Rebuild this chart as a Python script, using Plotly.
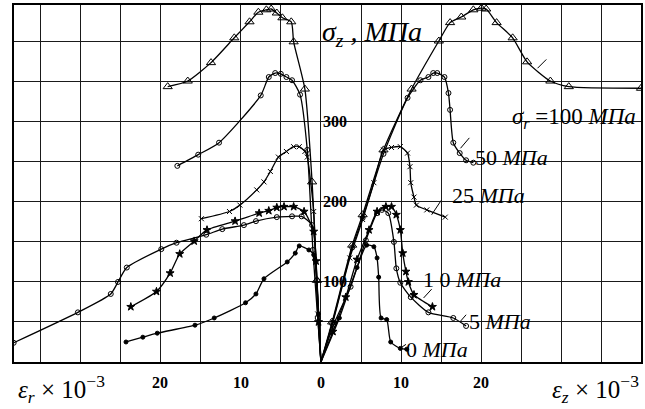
import plotly.graph_objects as go

# ---- data (strain x10^-3, stress MPa) ----
# left branch: radial strain eps_r (plotted to the left), right branch: axial strain eps_z
labels = ["100", "50", "25", "10", "5", "0"]

er_100 = [0, 0.5, 1.1, 2.0, 3.4, 3.7, 4.8, 5.5, 6.2, 6.8, 7.8, 8.9, 10.8, 13.7, 16.6, 19.1]
sr_100 = [0, 102, 225, 341, 400, 425, 430, 436, 441, 440, 437, 425, 405, 374, 351, 344]
ez_100 = [0, 1.4, 3.9, 5.2, 7.8, 11.3, 14.7, 16.1, 17.5, 19.0, 20.0, 20.6, 21.9, 23.9, 25.7, 28.6, 30.9, 39.9]
sz_100 = [0, 50, 146, 184, 265, 341, 401, 424, 431, 440, 442, 441, 424, 405, 375, 351, 344, 342]

er_50 = [0, 0.4, 1.0, 1.7, 2.6, 3.6, 4.3, 5.0, 5.7, 6.5, 7.5, 12.7, 15.3, 17.9]
sr_50 = [0, 55, 140, 265, 334, 352, 356, 360, 361, 356, 333, 274, 259, 245]
ez_50 = [0, 1.4, 3.9, 5.2, 7.8, 10.8, 12.4, 13.4, 14.0, 14.5, 15.4, 15.9, 16.1, 16.5, 17.3, 18.1, 19.0]
sz_50 = [0, 48, 143, 180, 260, 330, 352, 356, 361, 361, 356, 336, 315, 274, 261, 252, 249]

er_25 = [0, 0.4, 0.9, 1.7, 2.0, 2.7, 3.4, 4.3, 5.3, 6.3, 7.1, 8.0, 10.1, 11.4, 14.9]
sr_25 = [0, 60, 188, 256, 263, 269, 269, 263, 256, 238, 225, 215, 196, 188, 179]
ez_25 = [0, 1.5, 3.6, 5.2, 6.6, 7.8, 8.8, 9.9, 10.8, 11.1, 11.2, 11.6, 11.9, 13.2, 15.5]
sz_25 = [0, 50, 130, 178, 224, 265, 268, 269, 261, 244, 224, 206, 196, 190, 181]

er_10 = [0, 0.3, 0.6, 0.9, 2.1, 3.4, 4.6, 5.5, 6.5, 7.7, 10.7, 14.2, 15.8, 17.6, 18.8, 20.5, 23.7]
sr_10 = [0, 50, 126, 163, 188, 194, 194, 193, 189, 186, 176, 165, 151, 135, 111, 88, 69]
ez_10 = [0, 1.5, 3.1, 4.5, 6.0, 7.0, 8.1, 8.8, 9.4, 9.9, 10.2, 10.6, 10.9, 11.6, 13.9]
sz_10 = [0, 38, 81, 128, 165, 188, 194, 194, 184, 165, 136, 113, 100, 84, 69]

er_5 = [0, 0.5, 1.1, 2.4, 3.6, 5.5, 8.1, 9.6, 12.3, 14.3, 18.0, 19.9, 24.2, 25.3, 26.2, 30.3, 38.3]
sr_5 = [0, 102, 171, 182, 182, 181, 176, 171, 166, 159, 149, 141, 118, 100, 85, 62, 24]
ez_5 = [0, 1.6, 3.7, 5.6, 7.0, 7.6, 8.4, 9.1, 9.4, 9.9, 11.2, 13.4, 16.5, 18.1]
sz_5 = [0, 47, 94, 152, 186, 190, 186, 150, 117, 99, 81, 62, 55, 45]

er_0 = [0, 0.3, 0.9, 1.5, 2.7, 3.2, 4.2, 7.1, 8.1, 9.4, 13.3, 15.7, 20.4, 22.2, 24.3]
sr_0 = [0, 60, 134, 140, 145, 136, 125, 104, 85, 74, 55, 46, 36, 31, 25]
ez_0 = [0, 2.3, 4.5, 5.7, 6.6, 7.0, 7.2, 7.5, 8.2, 8.7, 9.9, 10.7]
sz_0 = [0, 55, 118, 146, 144, 130, 106, 55, 53, 25, 17, 16]

x_tick_vals = [-20, -10, 0, 10, 20]
x_tick_text = ["20", "10", "0", "10", "20"]
y_tick_vals = [100, 200, 300]

curves = [
    (er_100, sr_100, ez_100, sz_100, "triangle-up-open", 8),
    (er_50, sr_50, ez_50, sz_50, "circle-open", 5),
    (er_25, sr_25, ez_25, sz_25, "x-thin-open", 5),
    (er_10, sr_10, ez_10, sz_10, "star", 6),
    (er_5, sr_5, ez_5, sz_5, "circle-open", 5),
    (er_0, sr_0, ez_0, sz_0, "circle", 4),
]

fig = go.Figure()
for er, sr, ez, sz, sym, msz in curves:
    for xs, ys in ((list(-v for v in er), sr), (ez, sz)):
        fig.add_trace(go.Scatter(x=xs, y=ys, mode="lines",
                                 line=dict(color="black", width=1.3, shape="spline", smoothing=0.6),
                                 hoverinfo="skip", showlegend=False))
        fig.add_trace(go.Scatter(x=xs[1:], y=ys[1:], mode="markers",
                                 marker=dict(symbol=sym, size=msz, color="black",
                                             line=dict(color="black", width=1)),
                                 hoverinfo="skip", showlegend=False))

serif = "Liberation Serif, Times New Roman, serif"
ann = []
for v, t in zip(x_tick_vals, x_tick_text):
    ann.append(dict(x=v, y=-0.058, xref="x", yref="paper", text="<b>%s</b>" % t, showarrow=False,
                    yanchor="middle", font=dict(family=serif, size=16, color="black")))
for v in y_tick_vals:
    ann.append(dict(x=0.0, y=v, xref="x", yref="y", text="<b>%d</b>" % v, showarrow=False,
                    xanchor="left", yanchor="middle", font=dict(family=serif, size=16, color="black")))

ann += [
    dict(x=-38.0, y=-0.075, xref="x", yref="paper", xanchor="left", yanchor="middle", showarrow=False,
         text="<i>ε<sub>r</sub></i> × 10<sup>−3</sup>", font=dict(family=serif, size=25, color="black")),
    dict(x=28.6, y=-0.075, xref="x", yref="paper", xanchor="left", yanchor="middle", showarrow=False,
         text="<i>ε<sub>z</sub></i> × 10<sup>−3</sup>", font=dict(family=serif, size=25, color="black")),
    dict(x=-0.1, y=411, xref="x", yref="y", xanchor="left", yanchor="middle", showarrow=False,
         text="<i>σ<sub>z</sub> , МПа</i>", font=dict(family=serif, size=28, color="black")),
    dict(x=23.6, y=305, xref="x", yref="y", xanchor="left", yanchor="middle", showarrow=False,
         text="<i>σ<sub>r</sub></i> =100 <i>МПа</i>", font=dict(family=serif, size=23, color="black")),
    dict(x=18.9, y=256, xref="x", yref="y", xanchor="left", yanchor="middle", showarrow=False,
         text="50 <i>МПа</i>", font=dict(family=serif, size=22, color="black")),
    dict(x=16.1, y=208, xref="x", yref="y", xanchor="left", yanchor="middle", showarrow=False,
         text="25 <i>МПа</i>", font=dict(family=serif, size=22, color="black")),
    dict(x=12.5, y=103, xref="x", yref="y", xanchor="left", yanchor="middle", showarrow=False,
         text="1 0 <i>МПа</i>", font=dict(family=serif, size=22, color="black")),
    dict(x=18.2, y=51, xref="x", yref="y", xanchor="left", yanchor="middle", showarrow=False,
         text="5 <i>МПа</i>", font=dict(family=serif, size=22, color="black")),
    dict(x=10.3, y=16, xref="x", yref="y", xanchor="left", yanchor="middle", showarrow=False,
         text="0 <i>МПа</i>", font=dict(family=serif, size=22, color="black")),
]

# small leader slashes tying labels to curves
slashes = [((27.0, 367), (28.1, 378)), ((17.4, 267), (18.5, 280)), ((13.8, 184), (15.0, 202)),
           ((12.8, 80), (13.8, 91)), ((17.4, 51), (18.1, 59)), ((9.7, 16), (10.6, 22))]
shapes = [dict(type="line", x0=a[0], y0=a[1], x1=b[0], y1=b[1], xref="x", yref="y",
               line=dict(color="black", width=1)) for a, b in slashes]

fig.update_layout(
    width=645, height=409, margin=dict(l=14, r=2, t=5, b=47),
    paper_bgcolor="white", plot_bgcolor="white",
    annotations=ann, shapes=shapes, showlegend=False,
    xaxis=dict(range=[-38.26, 39.9], dtick=5, tick0=0, showgrid=True, gridcolor="#1a1a1a", gridwidth=1.3,
               zeroline=True, zerolinecolor="#1a1a1a", zerolinewidth=1.3, showticklabels=False, ticks="",
               showline=True, linecolor="black", linewidth=2, mirror=True, fixedrange=True),
    yaxis=dict(range=[0, 446], dtick=50, showgrid=True, gridcolor="#1a1a1a", gridwidth=1.3,
               zeroline=False, showticklabels=False, ticks="",
               showline=True, linecolor="black", linewidth=2, mirror=True, fixedrange=True),
)

fig.write_html("out.html", config={"displayModeBar": False},
               post_script="document.body.style.margin='0';document.body.style.overflow='hidden';")
